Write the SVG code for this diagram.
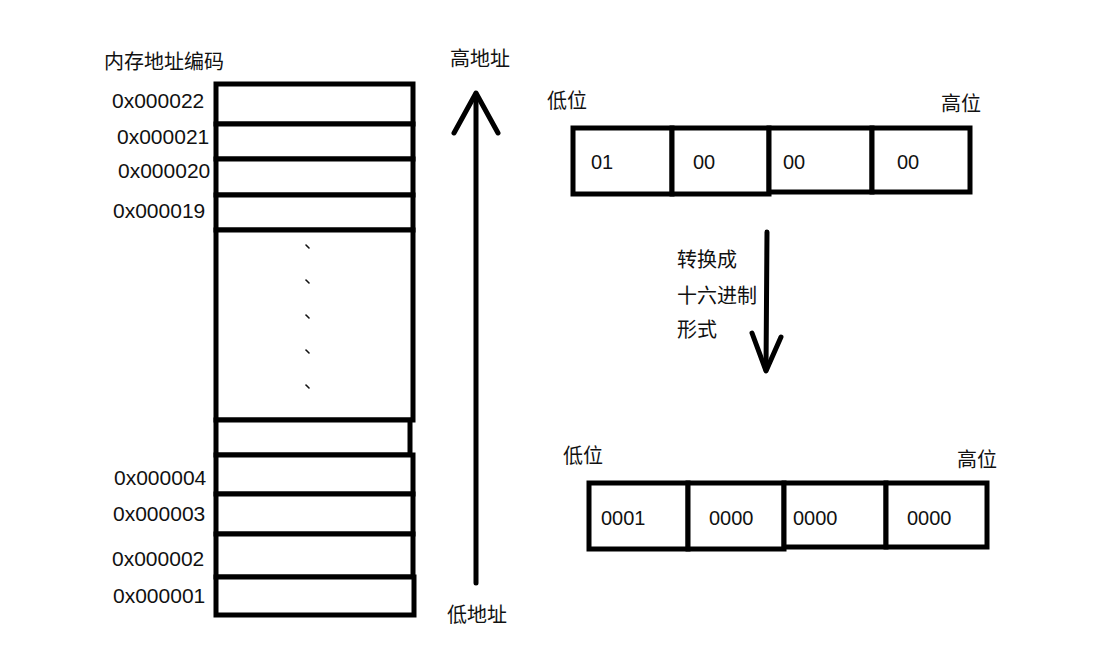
<svg xmlns="http://www.w3.org/2000/svg" width="1098" height="652" viewBox="0 0 1098 652">
<style>
.t{font-family:"Liberation Sans","Noto Sans CJK SC",sans-serif;font-size:20px;fill:#111}
.a{font-size:21px}
.c{font-family:"Noto Sans CJK SC","Liberation Sans",sans-serif;font-size:20px;fill:#111}
.box{fill:#fff;stroke:#000;stroke-width:5}
.ln{stroke:#000;stroke-width:5;fill:none;stroke-linecap:round;stroke-linejoin:round}
.dot{stroke:#111;stroke-width:1.6;stroke-linecap:round}
</style>
<rect width="1098" height="652" fill="#fff"/>
<g id="memory">
<text class="c" x="104" y="69">内存地址编码</text>
<rect class="box" x="216" y="84" width="197" height="40"/>
<rect class="box" x="216" y="124" width="197" height="35"/>
<rect class="box" x="216" y="159" width="197" height="36"/>
<rect class="box" x="216" y="195" width="197" height="35"/>
<rect class="box" x="216" y="230" width="197" height="190"/>
<rect class="box" x="216" y="420" width="194" height="35"/>
<rect class="box" x="216" y="455" width="197" height="39"/>
<rect class="box" x="216" y="494" width="197" height="40"/>
<rect class="box" x="216" y="534" width="197" height="43"/>
<rect class="box" x="216" y="577" width="198" height="38"/>
<text class="t a" x="112" y="108">0x000022</text>
<text class="t a" x="117" y="144">0x000021</text>
<text class="t a" x="118" y="178">0x000020</text>
<text class="t a" x="113" y="218">0x000019</text>
<text class="t a" x="114" y="485">0x000004</text>
<text class="t a" x="113" y="521">0x000003</text>
<text class="t a" x="112" y="566">0x000002</text>
<text class="t a" x="113" y="603">0x000001</text>
<line class="dot" x1="306" y1="245" x2="309" y2="248"/>
<line class="dot" x1="306" y1="280" x2="309" y2="283"/>
<line class="dot" x1="306" y1="315" x2="309" y2="318"/>
<line class="dot" x1="306" y1="350" x2="309" y2="353"/>
<line class="dot" x1="306" y1="385" x2="309" y2="388"/>
</g>
<g id="address-axis">
<text class="c" x="450" y="66">高地址</text>
<text class="c" x="447" y="622">低地址</text>
</g>
<g id="bytes-hex">
<text class="c" x="547" y="108">低位</text>
<text class="c" x="941" y="111">高位</text>
<rect class="box" x="573" y="128" width="99" height="66"/>
<rect class="box" x="672" y="128" width="97" height="66"/>
<rect class="box" x="769" y="128" width="103" height="64"/>
<rect class="box" x="872" y="128" width="98" height="64"/>
<text class="t" x="591" y="169">01</text>
<text class="t" x="693" y="169">00</text>
<text class="t" x="783" y="169">00</text>
<text class="t" x="897" y="169">00</text>
</g>
<g id="bytes-bin">
<text class="c" x="563" y="463">低位</text>
<text class="c" x="957" y="467">高位</text>
<rect class="box" x="589" y="483" width="99" height="66"/>
<rect class="box" x="688" y="483" width="96" height="66"/>
<rect class="box" x="784" y="483" width="102" height="64"/>
<rect class="box" x="886" y="483" width="101" height="64"/>
<text class="t" x="601" y="525">0001</text>
<text class="t" x="709" y="525">0000</text>
<text class="t" x="793" y="525">0000</text>
<text class="t" x="907" y="525">0000</text>
</g>
<g id="convert-label">
<text class="c" x="677" y="267">转换成</text>
<text class="c" x="677" y="303">十六进制</text>
<text class="c" x="677" y="337">形式</text>
</g>
<g id="connectors">
<line class="ln" x1="476" y1="583" x2="476" y2="94"/>
<polyline class="ln" points="454,133 476,93 498,133"/>
<line class="ln" x1="767" y1="232" x2="766" y2="370"/>
<polyline class="ln" points="752,333 766,371 781,337"/>
</g>
</svg>
